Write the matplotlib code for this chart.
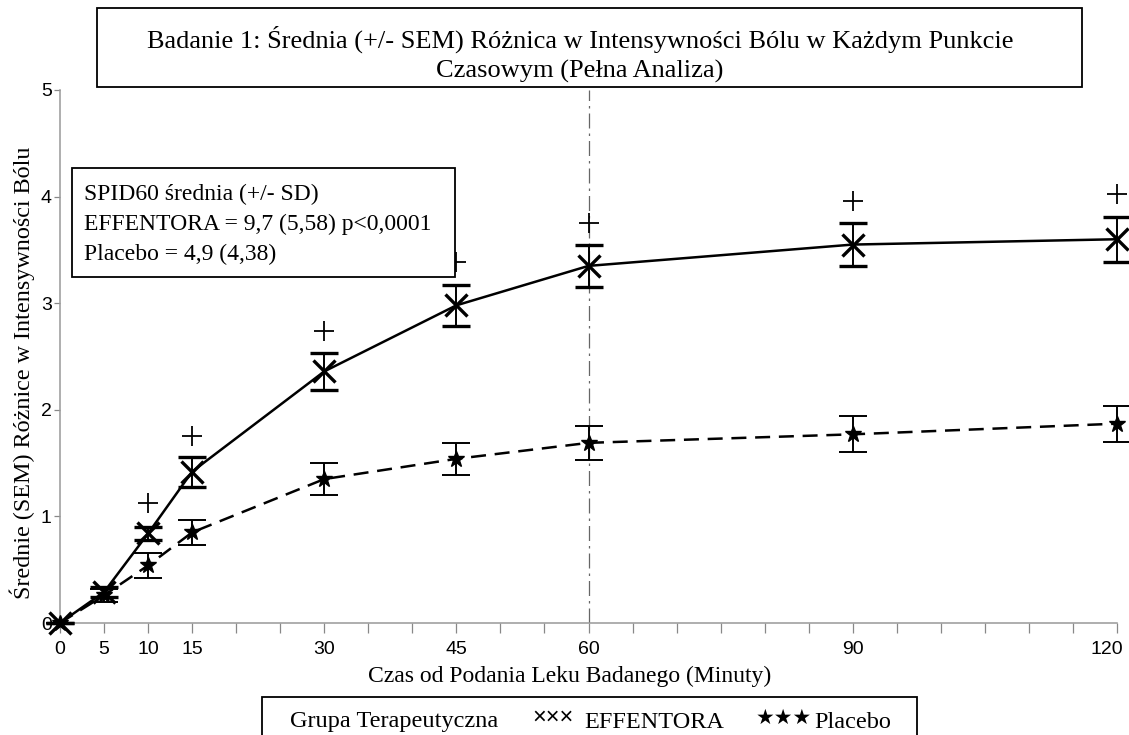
import numpy as np
import matplotlib.pyplot as plt
import matplotlib.transforms as mtransforms
from matplotlib.patches import Rectangle

# Time points (minutes)
czas = [0, 5, 10, 15, 30, 45, 60, 90, 120]

# EFFENTORA mean pain intensity difference, SEM and significance markers
effentora = [0.0, 0.29, 0.84, 1.42, 2.36, 2.98, 3.35, 3.55, 3.60]
effentora_sem = [0.0, 0.05, 0.06, 0.14, 0.17, 0.19, 0.20, 0.20, 0.21]
plus_czas = [10, 15, 30, 45, 60, 90, 120]
plus_y = [1.13, 1.75, 2.74, 3.39, 3.75, 3.96, 4.02]

# Placebo
placebo = [0.0, 0.26, 0.54, 0.85, 1.35, 1.54, 1.69, 1.77, 1.87]
placebo_sem = [0.0, 0.06, 0.12, 0.12, 0.15, 0.15, 0.16, 0.17, 0.17]

xtick_labels = [0, 5, 10, 15, 30, 45, 60, 90, 120]
ytick_labels = [0, 1, 2, 3, 4, 5]

serif = ['Liberation Serif', 'DejaVu Serif']
sans = ['Liberation Sans', 'DejaVu Sans']

fig = plt.figure(figsize=(11.29, 7.35), dpi=100)
ax = fig.add_axes([60 / 1129, 1 - 623 / 735, (1117 - 60) / 1129, (623 - 90) / 735])

eb1 = ax.errorbar(czas, effentora, yerr=effentora_sem, color='black', lw=1.8, ls='-',
                  marker='x', ms=16, mew=2.4, capsize=10, elinewidth=1.4, capthick=1.4,
                  zorder=3)
eb2 = ax.errorbar(czas, placebo, yerr=placebo_sem, color='black', lw=1.8, ls=(0, (6, 3.5)),
                  marker='*', ms=12, capsize=10, elinewidth=1.4, capthick=1.4, zorder=3)
for eb in (eb1, eb2):
    for art in eb.get_children():
        art.set_clip_on(False)
ax.plot(plus_czas, plus_y, ls='none', marker='+', ms=14, mew=1.3, color='black',
        zorder=2, clip_on=False)

ax.axvline(60, color='#666666', lw=0.9, ls=(0, (12, 4, 2, 4)), zorder=1)

ax.set_xlim(0, 120)
ax.set_ylim(0, 5)
ax.set_xticks(xtick_labels)
ax.set_xticks(np.arange(0, 121, 5), minor=True)
ax.set_yticks(ytick_labels)
ax.tick_params(axis='both', which='both', direction='out', color='#888888',
               labelsize=14, width=0.9)
ax.tick_params(axis='x', which='both', length=7, pad=6)
ax.tick_params(axis='y', length=4, pad=2)
for lbl in ax.get_xticklabels() + ax.get_yticklabels():
    lbl.set_family(sans)
# keep the last x label inside the figure
last = ax.get_xticklabels()[-1]
last.set_transform(last.get_transform() +
                   mtransforms.ScaledTranslation(-10 / 100, 0, fig.dpi_scale_trans))
for side in ['top', 'right']:
    ax.spines[side].set_visible(False)
for side in ['left', 'bottom']:
    ax.spines[side].set_color('#999999')
    ax.spines[side].set_linewidth(1.1)

# Info box inside plot
ax.add_patch(Rectangle((72 / 1129, 1 - 277 / 735), (455 - 72) / 1129, (277 - 168) / 735,
                       transform=fig.transFigure, facecolor='white', edgecolor='black',
                       lw=1.3, zorder=5))
info = ['SPID60 średnia (+/- SD)', 'EFFENTORA = 9,7 (5,58) p<0,0001', 'Placebo = 4,9 (4,38)']
for i, line in enumerate(info):
    fig.text(84 / 1129, 1 - (194 + i * 30) / 735, line, family=serif, fontsize=17,
             va='center', ha='left', zorder=6)

# Title box
fig.patches.append(Rectangle((97 / 1129, 1 - 87 / 735), (1082 - 97) / 1129, (87 - 8) / 735,
                             transform=fig.transFigure, facecolor='white',
                             edgecolor='black', lw=1.3))
fig.text(580 / 1129, 1 - 54 / 735,
         'Badanie 1: Średnia (+/- SEM) Różnica w Intensywności Bólu w Każdym Punkcie\nCzasowym (Pełna Analiza)',
         family=serif, fontsize=19, ha='center', va='center', linespacing=1.4)

# Axis labels
fig.text(570 / 1129, 1 - 676 / 735, 'Czas od Podania Leku Badanego (Minuty)',
         family=serif, fontsize=17, ha='center', va='center')
fig.text(22 / 1129, 1 - 373 / 735, 'Średnie (SEM) Różnice w Intensywności Bólu',
         family=serif, fontsize=17.4, ha='center', va='center', rotation=90)

# Bottom legend box
fig.patches.append(Rectangle((262 / 1129, -0.05), (917 - 262) / 1129, 0.05 + 1 - 697 / 735,
                             transform=fig.transFigure, facecolor='white',
                             edgecolor='black', lw=1.3))
ly = 1 - 722 / 735
fig.text(290 / 1129, ly, 'Grupa Terapeutyczna', family=serif, fontsize=17.5, va='center')
fig.text(532 / 1129, ly + 0.006, '×××', family=sans, fontsize=17, va='center')
fig.text(584 / 1129, ly, 'EFFENTORA', family=serif, fontsize=17.5, va='center')
fig.text(756 / 1129, ly + 0.006, '★★★', family=['DejaVu Sans'], fontsize=15, va='center')
fig.text(814 / 1129, ly, 'Placebo', family=serif, fontsize=17.5, va='center')

fig.savefig('out.png', dpi=100)
